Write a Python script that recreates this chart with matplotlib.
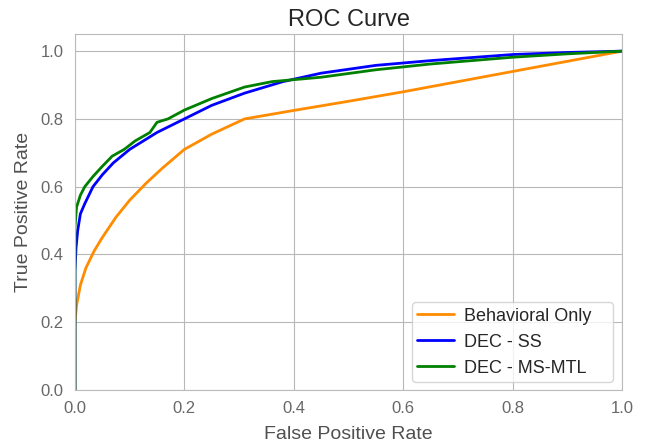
import matplotlib
matplotlib.use("Agg")
import matplotlib.pyplot as plt
import seaborn as sns

# ROC points
beh_fpr = [0, 0, 0.003, 0.01, 0.02, 0.035, 0.05, 0.075, 0.1, 0.13, 0.16, 0.2, 0.25, 0.31,
           0.4, 0.5, 0.6, 0.7, 0.8, 0.9, 1.0]
beh_tpr = [0, 0.2, 0.25, 0.31, 0.36, 0.41, 0.45, 0.51, 0.56, 0.61, 0.655, 0.71, 0.755, 0.80,
           0.825, 0.852, 0.88, 0.91, 0.94, 0.97, 1.0]

ss_fpr = [0, 0, 0.002, 0.005, 0.01, 0.018, 0.033, 0.05, 0.07, 0.1, 0.15, 0.2, 0.25, 0.31,
          0.38, 0.45, 0.55, 0.65, 0.8, 0.9, 1.0]
ss_tpr = [0, 0.35, 0.42, 0.47, 0.52, 0.55, 0.6, 0.635, 0.67, 0.71, 0.76, 0.80, 0.84, 0.876,
          0.91, 0.935, 0.958, 0.972, 0.99, 0.996, 1.0]

mtl_fpr = [0, 0, 0.003, 0.01, 0.018, 0.033, 0.05, 0.068, 0.09, 0.11, 0.137, 0.15, 0.17, 0.2,
           0.25, 0.31, 0.36, 0.45, 0.55, 0.65, 0.8, 0.9, 1.0]
mtl_tpr = [0, 0.48, 0.54, 0.575, 0.6, 0.63, 0.66, 0.69, 0.71, 0.735, 0.76, 0.79, 0.80, 0.826,
           0.86, 0.894, 0.91, 0.923, 0.945, 0.962, 0.982, 0.992, 1.0]

sns.set_style("whitegrid", {"grid.color": "#b8b8b8", "axes.edgecolor": "#bbbbbb"})
plt.rcParams['font.family'] = ['Liberation Sans', 'DejaVu Sans']

fig = plt.figure(figsize=(6.46, 4.44), dpi=100)
ax = fig.add_axes([0.116, 0.1216, 0.847, 0.8014])

ax.plot(beh_fpr, beh_tpr, color='darkorange', lw=2, label='Behavioral Only')
ax.plot(ss_fpr, ss_tpr, color='blue', lw=2, label='DEC - SS')
ax.plot(mtl_fpr, mtl_tpr, color='green', lw=2, label='DEC - MS-MTL')

ax.set_xlim(0.0, 1.0)
ax.set_ylim(0.0, 1.05)
ax.set_xticks([0, 0.2, 0.4, 0.6, 0.8, 1.0])
ax.set_yticks([0, 0.2, 0.4, 0.6, 0.8, 1.0])
ax.tick_params(labelsize=12, labelcolor='#686868', pad=4.5)
ax.set_xlabel('False Positive Rate', fontsize=14, color='#505050', labelpad=7)
ax.set_ylabel('True Positive Rate', fontsize=14, color='#505050', labelpad=6)
ax.set_title('ROC Curve', fontsize=17, color='#262626')
ax.legend(loc='lower left', bbox_to_anchor=(0.616, 0.0225, 0.3675, 0.2), mode='expand',
          borderaxespad=0, borderpad=0.3, handletextpad=0.6, fontsize=13, frameon=True)

fig.savefig('out.png', dpi=100)
